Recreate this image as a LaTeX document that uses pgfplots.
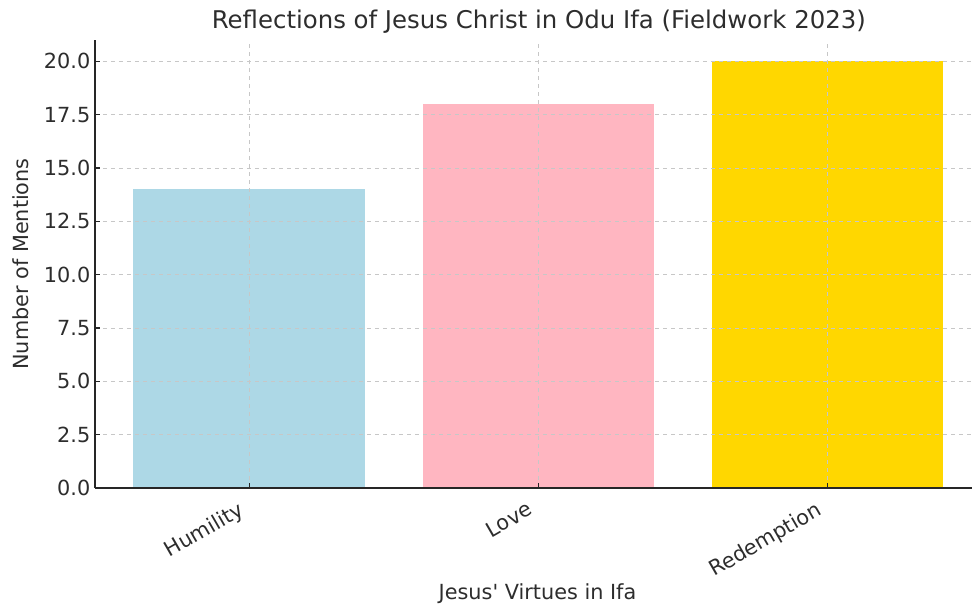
\documentclass[border=0pt]{standalone}
\usepackage{fontspec}
\setmainfont{DejaVu Sans}
\usepackage{pgfplots}
\pgfplotsset{compat=1.18}
\definecolor{txt}{RGB}{45,45,45}
\definecolor{hum}{RGB}{173,216,230}
\definecolor{lov}{RGB}{255,182,193}
\definecolor{red}{RGB}{255,215,0}
\begin{document}
\begin{tikzpicture}[x=0.75pt,y=0.75pt]
\begin{axis}[
    name=ax, scale only axis,
    width=657.75pt, height=336pt,
    xmin=-0.533, xmax=2.5, ymin=0, ymax=21,
    axis x line*=bottom, axis y line*=left,
    axis line style={black!85, line width=0.9pt},
    tick align=inside, major tick length=4pt,
    tick style={black!85, line width=0.8pt},
    xtick={0,1,2}, xticklabels={Humility,Love,Redemption},
    xticklabel style={rotate=30, anchor=north east, font=\fontsize{15.6}{18}\selectfont, text=txt, yshift=0pt, xshift=-9pt},
    ytick={0,2.5,...,20},
    yticklabel style={font=\fontsize{15.6}{18}\selectfont, text=txt},
    /pgf/number format/.cd, fixed, fixed zerofill, precision=1, assume math mode=true,
    /pgfplots/.cd,
    grid=major, grid style={black!22, dashed, line width=0.6pt},
    axis on top,
    title={Reflections of Jesus Christ in Odu Ifa (Fieldwork 2023)},
    title style={font=\fontsize{18.3}{21}\selectfont, text=txt, at={(0.5,1)}, anchor=south, inner sep=2pt, yshift=-3pt, xshift=4pt},
    xlabel={Jesus\textquotesingle\ Virtues in Ifa},
    ylabel={Number of Mentions},
    label style={font=\fontsize{15.6}{18}\selectfont, text=txt},
    xlabel style={at={(axis description cs:0.5,0)}, anchor=north, yshift=-68pt, xshift=3pt},
    ylabel shift=4.5pt,
]
\addplot[ybar, bar width=0.8, bar shift=0pt, fill=hum, draw=none] coordinates {(0,14)};
\addplot[ybar, bar width=0.8, bar shift=0pt, fill=lov, draw=none] coordinates {(1,18)};
\addplot[ybar, bar width=0.8, bar shift=0pt, fill=red, draw=none] coordinates {(2,20)};
\end{axis}
\pgfresetboundingbox
\path[use as bounding box] ([xshift=-95*0.75pt, yshift=-117*0.75pt]ax.south west) rectangle ([xshift=1*0.75pt, yshift=40*0.75pt]ax.north east);
\end{tikzpicture}
\end{document}
